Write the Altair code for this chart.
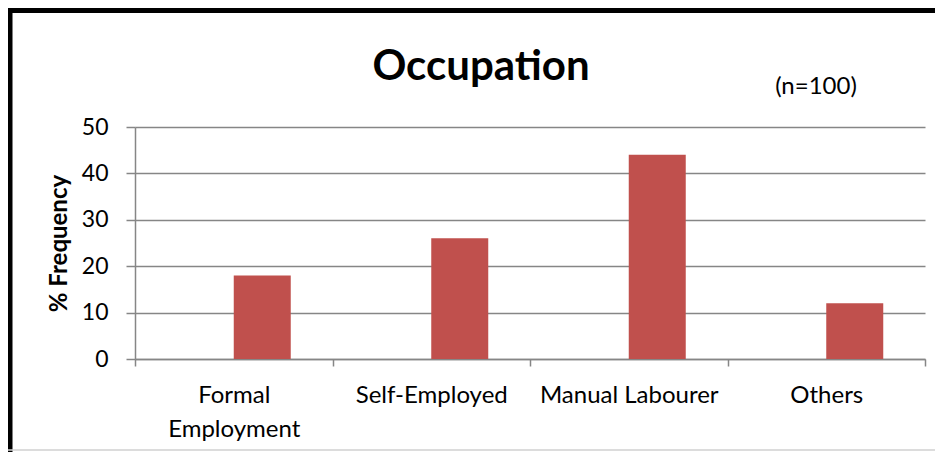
import altair as alt
import pandas as pd

categories = ["Formal Employment", "Self-Employed", "Manual Labourer", "Others"]
values = [18, 26, 44, 12]
y_ticks = [0, 10, 20, 30, 40, 50]
title_text = "Occupation"
note_text = "(n=100)"

FONT = "Lato"
GREY = "#868686"
W, H = 790, 232

df = pd.DataFrame({"cat": categories, "val": values})

bars = alt.Chart(df).mark_bar(size=57, xOffset=28.5, color="#C0504D").encode(
    x=alt.X(
        "cat:N",
        sort=categories,
        scale=alt.Scale(paddingInner=0, paddingOuter=0),
        axis=alt.Axis(
            title=None,
            labelAngle=0,
            tickBand="extent",
            labelFontSize=24,
            labelFont=FONT,
            labelColor="black",
            labelPadding=17,
            labelLineHeight=34,
            labelExpr="datum.label == 'Formal Employment' ? ['Formal', 'Employment'] : datum.label",
            tickSize=7,
            tickColor=GREY,
            tickWidth=1.5,
            domainColor=GREY,
            domainWidth=1.5,
            grid=False,
        ),
    ),
    y=alt.Y(
        "val:Q",
        scale=alt.Scale(domain=[0, 50]),
        axis=alt.Axis(
            values=y_ticks,
            title="% Frequency",
            titleFont=FONT,
            titleFontSize=24,
            titleFontWeight="bold",
            titleColor="black",
            titlePadding=10,
            labelFont=FONT,
            labelFontSize=23,
            labelColor="black",
            labelPadding=18,
            tickSize=9,
            tickColor=GREY,
            tickWidth=1.5,
            domainColor=GREY,
            domainWidth=1.5,
            gridColor=GREY,
            gridWidth=1.5,
        ),
    ),
)

texts = pd.DataFrame({"t": [title_text, note_text]})
title_mark = alt.Chart(texts).transform_filter(
    alt.datum.t == title_text
).mark_text(
    font=FONT, fontSize=42, fontWeight="bold", color="black", align="center", baseline="alphabetic"
).encode(x=alt.value(346), y=alt.value(-47), text="t:N")

note = alt.Chart(texts).transform_filter(
    alt.datum.t == note_text
).mark_text(
    font=FONT, fontSize=24, color="black", align="center", baseline="middle"
).encode(x=alt.value(681), y=alt.value(-40), text="t:N")

deco = pd.DataFrame({"k": [1]})
top_border = alt.Chart(deco).mark_rule(color="black", strokeWidth=5).encode(
    x=alt.value(-127), x2=alt.value(802), y=alt.value(-116.5)
)
left_border = alt.Chart(deco).mark_rule(color="black", strokeWidth=4.5).encode(
    x=alt.value(-124.75), y=alt.value(-119), y2=alt.value(325)
)
bottom_line = alt.Chart(deco).mark_rule(color="#d0d0d0", strokeWidth=1.5).encode(
    x=alt.value(-127), x2=alt.value(802), y=alt.value(323)
)

chart = alt.layer(bars, title_mark, note, top_border, left_border, bottom_line).properties(
    width=W,
    height=H,
    autosize=alt.AutoSizeParams(type="none"),
    padding={"left": 127, "top": 119, "right": 10, "bottom": 93},
).configure_view(stroke=None)

chart.save("out.html", embed_options={"renderer": "svg", "actions": False})
